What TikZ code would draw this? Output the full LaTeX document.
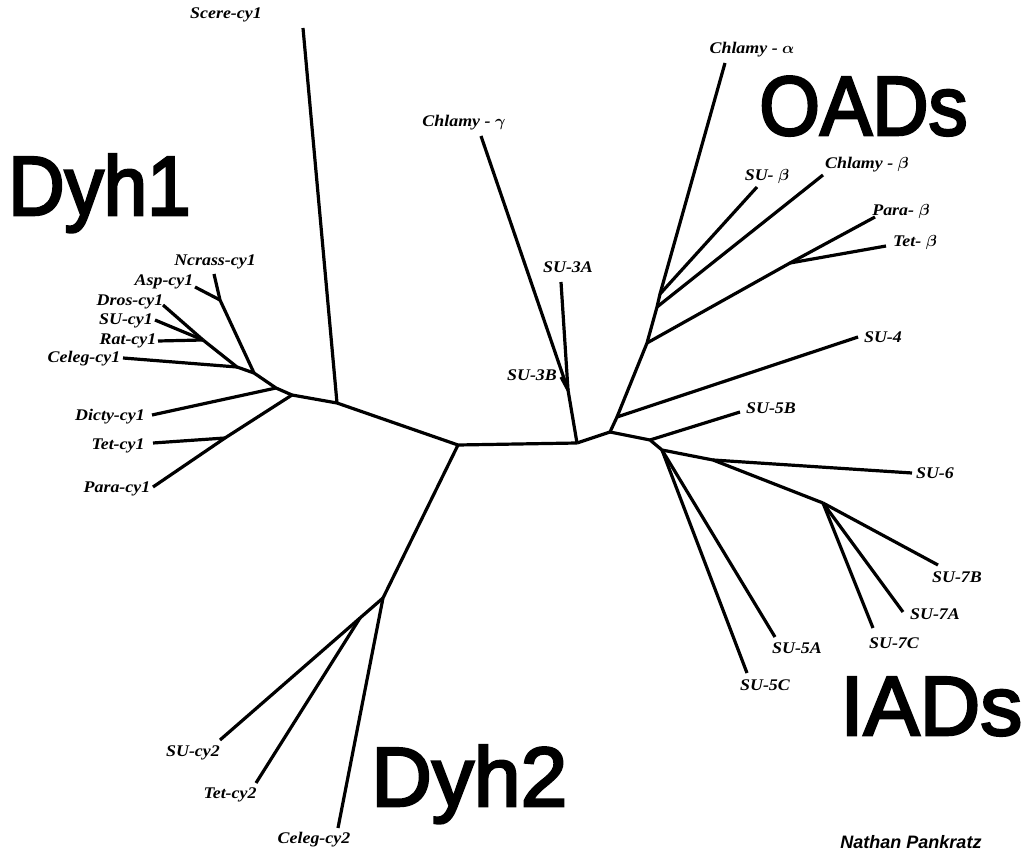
\documentclass[tikz,border=0pt]{standalone}
\usepackage{fontspec}
\setmainfont{Liberation Serif}
\newfontfamily\lblfont{Liberation Serif}[FakeStretch=1.1]
\newfontfamily\bigfont{Liberation Sans}[FakeBold=3]
\newfontfamily\bigfontn{Liberation Sans}[FakeBold=3,FakeStretch=0.93]
\newfontfamily\sigfont{Liberation Sans}
\begin{document}
\begin{tikzpicture}[x=0.75pt,y=-0.75pt,
  lbl/.style={font=\lblfont\bfseries\itshape\boldmath\fontsize{12.2}{14}\selectfont, inner sep=0pt},
  big/.style={font=\bigfont\fontsize{63}{70}\selectfont, anchor=base west, inner sep=0pt},
  bign/.style={font=\bigfontn\fontsize{63}{70}\selectfont, anchor=base west, inner sep=0pt},
  sig/.style={font=\sigfont\bfseries\itshape\fontsize{13.5}{15}\selectfont, inner sep=0pt},
  br/.style={line width=2.4pt, line join=round, line cap=butt}]
\useasboundingbox (0,0) rectangle (1029,852);
\fill[white] (0,0) rectangle (1029,852);

% internal nodes
\coordinate (Na) at (220,300);
\coordinate (R) at (203,340);
\coordinate (C) at (237,367);
\coordinate (M) at (254,373);
\coordinate (D) at (276,388);
\coordinate (H) at (292,395);
\coordinate (T) at (225,438);
\coordinate (S) at (337,403);
\coordinate (B1) at (458,445);
\coordinate (B2) at (577,443);
\coordinate (CG) at (568,390);
\coordinate (R0) at (610,432);
\coordinate (O1) at (617,417);
\coordinate (O2) at (647,343);
\coordinate (PT) at (790,263);
\coordinate (O3) at (657,307);
\coordinate (O4) at (660,294);
\coordinate (I1) at (650,440);
\coordinate (I2) at (662,450);
\coordinate (I3) at (713,460);
\coordinate (I4) at (823,503);
\coordinate (E1) at (383,598);
\coordinate (E2) at (360,618);

% leaf ends
\coordinate (lNcrass) at (214,274);
\coordinate (lAsp) at (195,287);
\coordinate (lDros) at (163,305);
\coordinate (lSU1) at (155,320);
\coordinate (lRat) at (158,341);
\coordinate (lCeleg1) at (123,358);
\coordinate (lDicty) at (152,415);
\coordinate (lTet1) at (153,443);
\coordinate (lPara1) at (153,487);
\coordinate (lScere) at (303,28);
\coordinate (lCg) at (481,136);
\coordinate (l3A) at (561,282);
\coordinate (l3B) at (561,377);
\coordinate (lCa) at (725,63);
\coordinate (lSUb) at (757,187);
\coordinate (lCb) at (823,175);
\coordinate (lPb) at (875,217);
\coordinate (lTb) at (886,246);
\coordinate (l4) at (858,337);
\coordinate (l5B) at (740,412);
\coordinate (l5C) at (747,673);
\coordinate (l5A) at (775,637);
\coordinate (l6) at (912,473);
\coordinate (l7B) at (938,565);
\coordinate (l7A) at (903,612);
\coordinate (l7C) at (873,628);
\coordinate (lCeleg2) at (338,828);
\coordinate (lSU2) at (220,740);
\coordinate (lTet2) at (256,783);

% branches
\draw[br] (lNcrass) -- (Na) -- (M);
\draw[br] (lAsp) -- (Na);
\draw[br] (lDros) -- (R);
\draw[br] (lSU1) -- (R);
\draw[br] (lRat) -- (R);
\draw[br] (R) -- (C) -- (M) -- (D) -- (H);
\draw[br] (lCeleg1) -- (C);
\draw[br] (lDicty) -- (D);
\draw[br] (H) -- (T) -- (lPara1);
\draw[br] (lTet1) -- (T);
\draw[br] (H) -- (S) -- (B1) -- (B2);
\draw[br] (lScere) -- (S);
\draw[br] (B2) -- (CG) -- (lCg);
\draw[br] (CG) -- (l3A);
\draw[br] (CG) -- (l3B);
\draw[br] (B2) -- (R0) -- (O1) -- (O2) -- (O3) -- (O4) -- (lCa);
\draw[br] (O1) -- (l4);
\draw[br] (O2) -- (PT) -- (lPb);
\draw[br] (PT) -- (lTb);
\draw[br] (O3) -- (lCb);
\draw[br] (O4) -- (lSUb);
\draw[br] (R0) -- (I1) -- (I2) -- (I3) -- (I4);
\draw[br] (I1) -- (l5B);
\draw[br] (I2) -- (l5C);
\draw[br] (I2) -- (l5A);
\draw[br] (I3) -- (l6);
\draw[br] (I4) -- (l7B);
\draw[br] (I4) -- (l7A);
\draw[br] (I4) -- (l7C);
\draw[br] (B1) -- (E1) -- (lCeleg2);
\draw[br] (E1) -- (E2) -- (lSU2);
\draw[br] (E2) -- (lTet2);

% leaf labels
\node[lbl] (tScere) at (226,15) {Scere-cy1};
\node[lbl] (tNcrass) at (215,262) {Ncrass-cy1};
\node[lbl] (tAsp) at (164,282) {Asp-cy1};
\node[lbl] (tDros) at (130,302) {Dros-cy1};
\node[lbl] (tSU1) at (126,321) {SU-cy1};
\node[lbl] (tRat) at (128,341) {Rat-cy1};
\node[lbl] (tCeleg1) at (84,359) {Celeg-cy1};
\node[lbl] (tDicty) at (110,417) {Dicty-cy1};
\node[lbl] (tTet1) at (118,446) {Tet-cy1};
\node[lbl] (tPara1) at (117,489) {Para-cy1};
\node[lbl] (tCg) at (464,123) {Chlamy - $\gamma$};
\node[lbl] (t3A) at (568,267) {SU-3A};
\node[lbl] (t3B) at (532,375) {SU-3B};
\node[lbl] (tCa) at (752,50) {Chlamy - $\alpha$};
\node[lbl] (tSUb) at (767,177) {SU- $\beta$};
\node[lbl] (tCb) at (867,165) {Chlamy - $\beta$};
\node[lbl] (tPb) at (901,212) {Para- $\beta$};
\node[lbl] (tTb) at (915,243) {Tet- $\beta$};
\node[lbl] (t4) at (883,337) {SU-4};
\node[lbl] (t5B) at (771,408) {SU-5B};
\node[lbl] (t6) at (935,473) {SU-6};
\node[lbl] (t7B) at (957,577) {SU-7B};
\node[lbl] (t7A) at (935,614) {SU-7A};
\node[lbl] (t7C) at (894,643) {SU-7C};
\node[lbl] (t5A) at (797,648) {SU-5A};
\node[lbl] (t5C) at (765,685) {SU-5C};
\node[lbl] (tSU2) at (193,753) {SU-cy2};
\node[lbl] (tTet2) at (230,795) {Tet-cy2};
\node[lbl] (tCeleg2) at (314,840) {Celeg-cy2};

% group labels
\node[bign] (gDyh1) at (8,215) {Dyh1};
\node[bign] (gOADs) at (759,135) {OADs};
\node[big] (gIADs) at (840,735) {IADs};
\node[big] (gDyh2) at (371,806) {Dyh2};

\node[sig] (sign) at (911,842) {Nathan Pankratz};
\end{tikzpicture}
\end{document}
